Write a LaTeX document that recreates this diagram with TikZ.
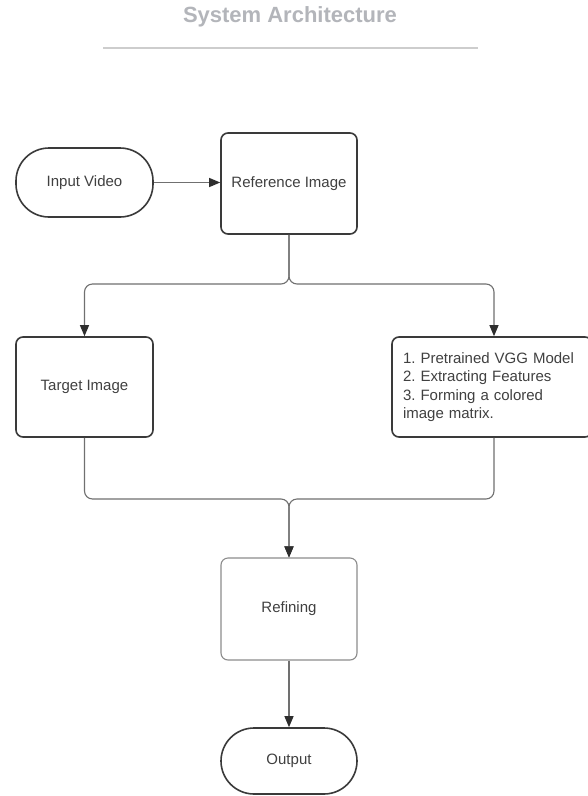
\documentclass[tikz,border=0pt]{standalone}
\usepackage{fontspec}
\setmainfont{Liberation Sans}
\usetikzlibrary{arrows.meta}
\definecolor{boxline}{HTML}{3A3A3A}
\definecolor{lightline}{HTML}{8C8C8C}
\definecolor{conn}{HTML}{707070}
\definecolor{tipcol}{HTML}{2E2E2E}
\definecolor{txt}{HTML}{404040}
\definecolor{titlecol}{HTML}{B3B5BA}
\definecolor{rulecol}{HTML}{CDCDCD}
\tikzset{
  basebox/.style={draw=boxline, line width=1.6pt, fill=white, text=txt,
    font=\fontsize{15}{18.5}\selectfont\frenchspacing, inner sep=0pt},
  procbox/.style={basebox, rounded corners=7pt},
  termbox/.style={basebox, rounded corners=33pt},
  lightbox/.style={basebox, draw=lightline, line width=1.1pt, rounded corners=7pt},
  conline/.style={draw=conn, line width=1.1pt, rounded corners=8pt},
  conarrow/.style={conline, -{Triangle[length=11pt,width=9pt,color=tipcol]}},
}
\begin{document}
\begin{tikzpicture}[x=1pt,y=-1pt]
\useasboundingbox (0,0) rectangle (587,796);
\fill[white] (0,0) rectangle (587,796);
% title
\node[font=\bfseries\fontsize{22}{26}\selectfont, text=titlecol] (title) at (290,17) {System Architecture};
\coordinate (ruleL) at (103,48);
\coordinate (ruleR) at (478,48);
\draw[rulecol, line width=1.5pt] (ruleL) -- (ruleR);
% nodes
\node[termbox, minimum width=137pt, minimum height=69pt] (invid) at (84.5,182.5) {Input Video};
\node[procbox, minimum width=136pt, minimum height=101pt] (ref) at (289,183.5) {Reference Image};
\node[procbox, minimum width=137pt, minimum height=100pt] (tgt) at (84.5,387) {Target Image};
\node[procbox, minimum width=200pt, minimum height=100pt, text width=178pt, align=left, inner xsep=11pt] (vgg) at (492,387)
  {1. Pretrained VGG Model\\2. Extracting Features\\3. Forming a colored\\image matrix.};
\node[lightbox, minimum width=136pt, minimum height=102pt] (refine) at (289,609) {Refining};
\node[termbox, minimum width=136pt, minimum height=66pt] (out) at (289,761) {Output};
% connectors
\coordinate (split) at (289,284);
\coordinate (merge) at (289,499);
\draw[conarrow] (invid.east) -- (ref.west |- invid.east);
\draw[conarrow] (ref.south) -- (split) -| (tgt.north);
\draw[conarrow] (ref.south) -- (split) -| (vgg.north -| 494,0);
\draw[conarrow] (tgt.south) |- (merge) -- (refine.north);
\draw[conarrow] (vgg.south -| 494,0) |- (merge) -- (refine.north);
\draw[conarrow] (refine.south) -- (out.north);
\end{tikzpicture}
\end{document}
